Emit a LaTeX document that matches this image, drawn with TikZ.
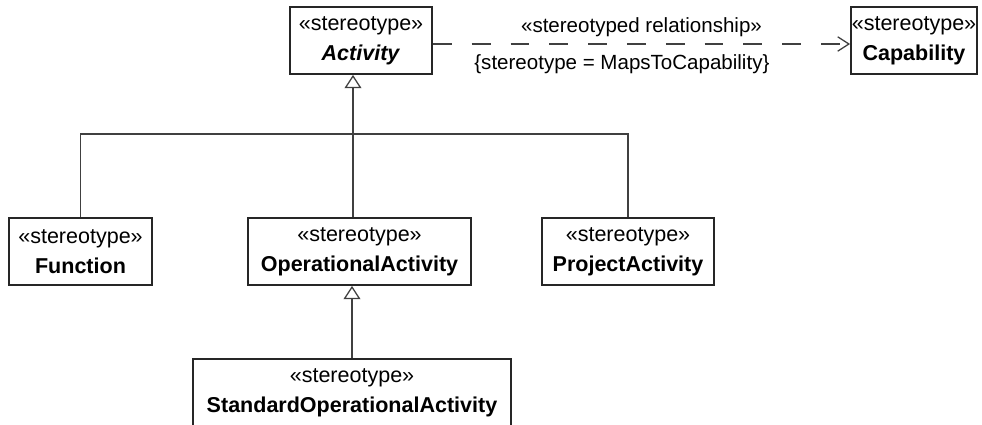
\documentclass[tikz,border=0pt]{standalone}
\usepackage{fontspec}
\setmainfont{Liberation Sans}
\usetikzlibrary{arrows.meta, positioning, calc}

\begin{document}
\begin{tikzpicture}[x=0.025cm, y=-0.025cm,
            stereo/.style={draw=black!85, line width=1.3pt, align=center, inner sep=0pt, minimum height=1.675cm, font=\fontsize{15.3}{21.3}\selectfont},
            lbl/.style={inner sep=0pt, font=\fontsize{14.6}{18}\selectfont},
            conn/.style={draw=black!75, line width=0.9pt},
            gen/.style={conn, -{Triangle[open, length=0.33cm, width=0.42cm]}},
            dep/.style={conn, dash pattern=on 0.47cm off 0.5cm, -{Straight Barb[length=0.28cm, width=0.36cm]}}]
            \useasboundingbox (0,0) rectangle (982,425);

            \node[stereo, minimum width=3.55cm] (act) at (361,40.5) {«stereotype»\\\textbf{\textit{Activity}}};
            \node[stereo, minimum width=3.15cm] (cap) at (914,40.5) {«stereotype»\\\textbf{Capability}};

            \node[stereo, minimum width=3.575cm] (fun) at (80.5,251.5) {«stereotype»\\\textbf{Function}};
            \node[stereo, minimum width=5.575cm] (opa) at (359.5,251.5) {«stereotype»\\\textbf{OperationalActivity}};
            \node[stereo, minimum width=4.3cm] (pra) at (628,251.5) {«stereotype»\\\textbf{ProjectActivity}};
            \node[stereo, minimum width=7.95cm] (sopa) at (352,392.5) {«stereotype»\\\textbf{StandardOperationalActivity}};

            % generalizations
            \coordinate (bus) at (353,134);
            \draw[conn] (fun.north) |- (bus) -| (pra.north);
            \draw[conn] (opa.north -| bus) -- (bus);
            \draw[gen] (bus) -- (bus |- act.south);
            \draw[gen] (sopa.north) -- (sopa.north |- opa.south);

            \draw[dep] ($(act.east)+(0,3.5)$) -- ($(cap.west)+(0,3.5)$)
                node[lbl, midway, above=5pt] (rel) {«stereotyped relationship»}
                node[lbl, pos=0.453, below=7pt] (tag) {\{stereotype = MapsToCapability\}};
        \end{tikzpicture}
\end{document}
